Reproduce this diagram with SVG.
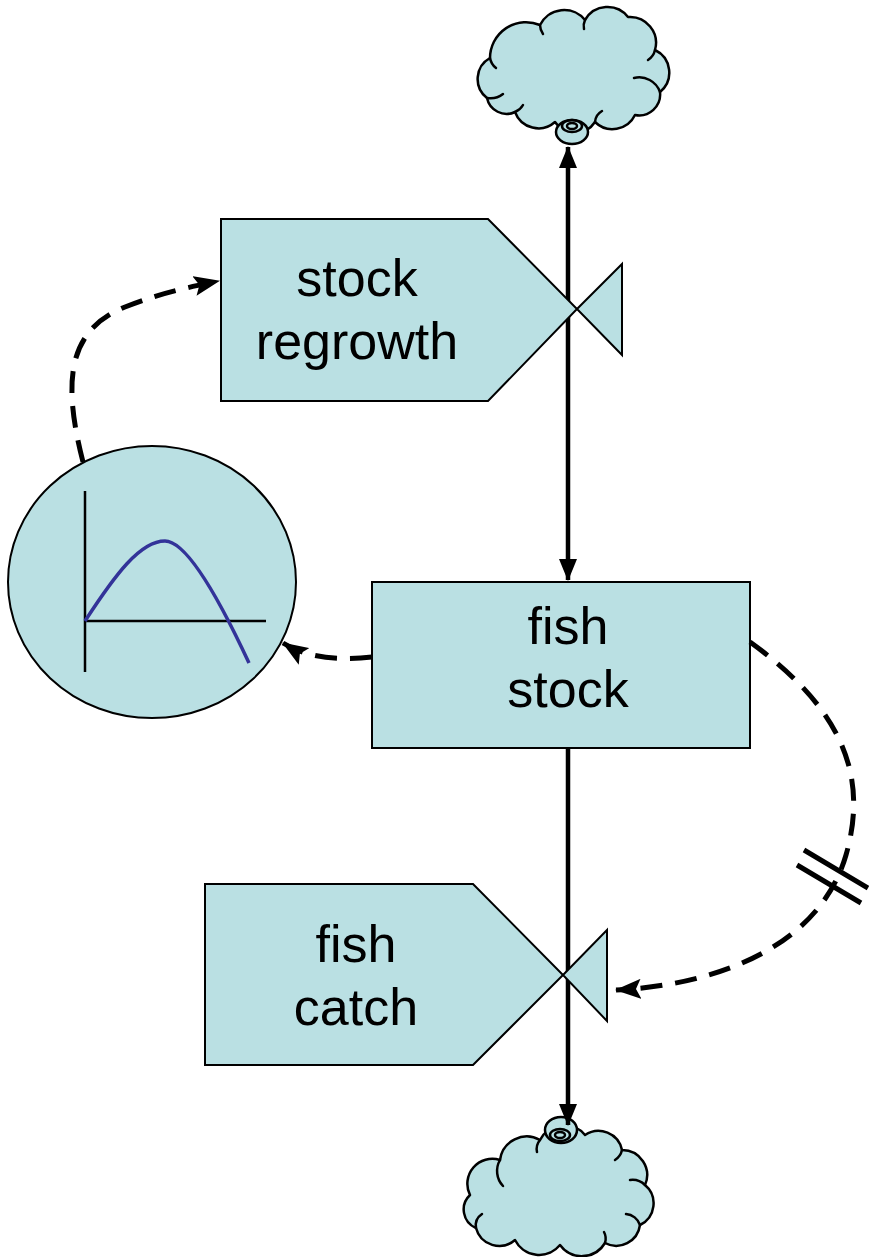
<svg xmlns="http://www.w3.org/2000/svg" width="869" height="1257" viewBox="0 0 869 1257">
<style>
.shape{fill:#BAE0E3;stroke:#000;stroke-width:2;stroke-linejoin:miter}
.cloud{fill:#BAE0E3;stroke:#000;stroke-width:2.5;stroke-linejoin:round}
.curl{fill:none;stroke:#000;stroke-width:2.5;stroke-linecap:round}
.flow{fill:none;stroke:#000;stroke-width:4.5}
.link{fill:none;stroke:#000;stroke-width:5;stroke-dasharray:22 13}
.lbl{font-family:"Liberation Sans",Arial,sans-serif;font-size:52px;fill:#000;text-anchor:middle}
</style>
<defs>
<marker id="flowArrow" viewBox="0 0 22 18" refX="21" refY="9" markerWidth="22" markerHeight="18" markerUnits="userSpaceOnUse" orient="auto-start-reverse">
<path d="M0,0 L22,9 L0,18 z" fill="#000"/>
</marker>
<marker id="linkArrow" viewBox="0 0 26 20" refX="25" refY="10" markerWidth="26" markerHeight="20" markerUnits="userSpaceOnUse" orient="auto">
<path d="M0,0 L26,10 L0,20 L5,10 z" fill="#000"/>
</marker>
</defs>

<g id="cloud-top">
<path class="cloud" d="M490,58 A36,36 0 0 1 540,25 A27,27 0 0 1 585,20 A26,26 0 0 1 628,17 A26,26 0 0 1 655,50 A25,25 0 0 1 660,92 A21,21 0 0 1 635,115 A25,25 0 0 1 595,122 A24,24 0 0 1 555,122 A25,25 0 0 1 515,112 A20,20 0 0 1 487,98 A24,24 0 0 1 490,58 z"/>
<path class="curl" d="M490,58 A16,16 0 0 0 496,68"/>
<path class="curl" d="M540,25 A16,16 0 0 0 543,34"/>
<path class="curl" d="M585,20 A14,14 0 0 0 584,29"/>
<path class="curl" d="M655,50 A16,16 0 0 1 648,60"/>
<path class="curl" d="M660,92 A22,22 0 0 0 634,78"/>
<path class="curl" d="M487,98 A20,20 0 0 0 503,94"/>
<path class="curl" d="M515,112 A16,16 0 0 0 523,105"/>
<path class="curl" d="M595,122 A14,14 0 0 1 602,111"/>
<ellipse class="cloud" cx="572" cy="132" rx="16" ry="12"/>
<ellipse class="curl" cx="572" cy="126" rx="10" ry="6"/>
<ellipse class="curl" cx="572" cy="126" rx="5" ry="3"/>
</g>

<g id="cloud-bottom">
<path class="cloud" d="M470,1195 A25,25 0 0 1 500,1160 A27,27 0 0 1 540,1140 A27,27 0 0 1 585,1135 A24,24 0 0 1 622,1150 A25,25 0 0 1 645,1185 A24,24 0 0 1 640,1225 A24,24 0 0 1 605,1243 A27,27 0 0 1 560,1245 A27,27 0 0 1 515,1240 A24,24 0 0 1 476,1228 A20,20 0 0 1 470,1195 z"/>
<path class="curl" d="M500,1160 A22,22 0 0 0 503,1186"/>
<path class="curl" d="M540,1140 A14,14 0 0 0 537,1152"/>
<path class="curl" d="M622,1150 A16,16 0 0 1 615,1160"/>
<path class="curl" d="M645,1185 A18,18 0 0 0 630,1180"/>
<path class="curl" d="M640,1225 A16,16 0 0 0 626,1214"/>
<path class="curl" d="M476,1228 A14,14 0 0 1 482,1214"/>
<path class="curl" d="M605,1243 A14,14 0 0 0 604,1232"/>
<ellipse class="cloud" cx="561" cy="1130" rx="16" ry="13"/>
<ellipse class="curl" cx="560" cy="1135" rx="10" ry="6"/>
<ellipse class="curl" cx="560" cy="1135" rx="5" ry="3"/>
</g>

<g id="flows">
<line class="flow" x1="568" y1="147" x2="568" y2="580" marker-start="url(#flowArrow)" marker-end="url(#flowArrow)"/>
<line class="flow" x1="568" y1="748" x2="568" y2="1125" marker-end="url(#flowArrow)"/>
</g>

<g id="stock-regrowth">
<path class="shape" d="M221,219 L488,219 L577,309 L488,401 L221,401 z"/>
<path class="shape" d="M577,309 L622,264 L622,355 z"/>
<text class="lbl" x="357" y="296">stock</text>
<text class="lbl" x="357" y="359">regrowth</text>
</g>

<g id="fish-stock">
<rect class="shape" x="372" y="582" width="378" height="166"/>
<text class="lbl" x="568" y="644">fish</text>
<text class="lbl" x="568" y="707">stock</text>
</g>

<g id="fish-catch">
<path class="shape" d="M205,884 L473,884 L563,975 L473,1065 L205,1065 z"/>
<path class="shape" d="M563,975 L607,930 L607,1021 z"/>
<text class="lbl" x="356" y="962">fish</text>
<text class="lbl" x="356" y="1025">catch</text>
</g>

<g id="converter">
<ellipse class="shape" cx="152" cy="582" rx="144" ry="136"/>
<path d="M85,491 L85,672 M85,621 L266,621" fill="none" stroke="#000" stroke-width="2.5"/>
<path d="M85,621 C115,575 140,541 165,541 C185,541 215,590 249,663" fill="none" stroke="#333399" stroke-width="3.5"/>
</g>

<g id="connectors">
<path class="link" d="M83,462 C62,380 68,330 125,307 C160,293 190,287 219,281" marker-end="url(#linkArrow)"/>
<path class="link" d="M372,657 C335,661 305,657 283,643" marker-end="url(#linkArrow)"/>
<path class="link" d="M750,642 C830,700 872,765 846,855 C820,945 720,985 616,990" marker-end="url(#linkArrow)"/>
<path d="M804,850 L868,888 M797,865 L861,903" fill="none" stroke="#000" stroke-width="5"/>
</g>
</svg>
